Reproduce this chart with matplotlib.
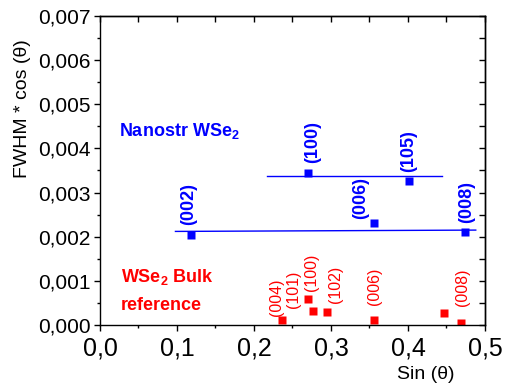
import matplotlib
matplotlib.use('Agg')
import matplotlib.pyplot as plt
from matplotlib.ticker import MultipleLocator, FuncFormatter

plt.rcParams.update({
    'font.family': 'Liberation Sans',
    'mathtext.fontset': 'custom',
    'mathtext.rm': 'Liberation Sans',
    'mathtext.bf': 'Liberation Sans:bold',
})

# Nanostructured WSe2 peaks
nano_sin = [0.118, 0.2705, 0.356, 0.401, 0.474]
nano_fwhm = [0.00204, 0.00345, 0.00231, 0.00326, 0.00210]
nano_hkl = ['(002)', '(100)', '(006)', '(105)', '(008)']

# Bulk reference peaks (one point has no label)
bulk_sin = [0.2368, 0.277, 0.2705, 0.295, 0.356, 0.4468, 0.4684]
bulk_fwhm = [0.000107, 0.000325, 0.00058, 0.00030, 0.000113, 0.000265, 0.00005]
bulk_hkl = ['(004)', '(101)', '(100)', '(102)', '(006)', '', '(008)']

# Linear fits drawn on the nanostructured data
fit1_x = [0.098, 0.488]
fit1_y = [0.00212, 0.00215]
fit2_x = [0.217, 0.4446]
fit2_y = [0.00338, 0.00338]

# label offsets in points (dx, dy)
nano_off = [(-1.5, 7), (3, 7), (-10, 3), (0, 6.5), (1.5, 6.5)]
bulk_off = [(-4.5, 3), (-14.5, 2), (2.5, 6), (6, 6.5), (0.5, 11), (0, 0), (1.5, 12)]

blue = '#0000FF'
red = '#FF0000'

fig = plt.figure(figsize=(5.06, 3.87), dpi=100)
ax = fig.add_axes([0.1976, 0.1602, 0.9585 - 0.1976, 0.9587 - 0.1602])

ax.plot(fit1_x, fit1_y, color=blue, lw=1)
ax.plot(fit2_x, fit2_y, color=blue, lw=1)
ax.plot(nano_sin, nano_fwhm, 's', color=blue, ms=5.5, mec='none')
ax.plot(bulk_sin, bulk_fwhm, 's', color=red, ms=5.5, mec='none')

for x, y, lab, (dx, dy) in zip(nano_sin, nano_fwhm, nano_hkl, nano_off):
    ax.annotate(lab, (x, y), xytext=(dx, dy), textcoords='offset points',
                rotation=90, ha='center', va='bottom', color=blue,
                fontsize=13, fontweight='bold')
for x, y, lab, (dx, dy) in zip(bulk_sin, bulk_fwhm, bulk_hkl, bulk_off):
    if lab:
        ax.annotate(lab, (x, y), xytext=(dx, dy), textcoords='offset points',
                    rotation=90, ha='center', va='bottom', color=red,
                    fontsize=11.5)

ax.text(0.0247, 0.00429, r'Nanostr WSe$_\mathbf{2}$', color=blue,
        fontsize=13, fontweight='bold', ha='left', va='baseline')
ax.text(0.027, 0.00098, r'WSe$_\mathbf{2}$ Bulk', color=red,
        fontsize=13, fontweight='bold', ha='left', va='baseline')
ax.text(0.027, 0.00034, 'reference', color=red,
        fontsize=13, fontweight='bold', ha='left', va='baseline')

ax.set_xlim(0, 0.5)
ax.set_ylim(0, 0.007)
ax.xaxis.set_major_locator(MultipleLocator(0.1))
ax.xaxis.set_minor_locator(MultipleLocator(0.05))
ax.yaxis.set_major_locator(MultipleLocator(0.001))
ax.yaxis.set_minor_locator(MultipleLocator(0.0005))
ax.xaxis.set_major_formatter(FuncFormatter(lambda v, p: f'{v:.1f}'.replace('.', ',')))
ax.yaxis.set_major_formatter(FuncFormatter(lambda v, p: f'{v:.3f}'.replace('.', ',')))
ax.tick_params(axis='x', which='major', labelsize=18, direction='out', length=4, width=1, pad=4)
ax.tick_params(axis='y', which='major', labelsize=15, direction='out', length=4, width=1, pad=3)
ax.tick_params(which='minor', direction='out', length=2.5, width=1)
for s in ax.spines.values():
    s.set_linewidth(1)

# top and right: inward ticks, no labels
top = ax.secondary_xaxis('top')
top.xaxis.set_major_locator(MultipleLocator(0.05))
top.tick_params(direction='in', length=4, width=1, labeltop=False)
top.spines['top'].set_linewidth(1)
right = ax.secondary_yaxis('right')
right.yaxis.set_major_locator(MultipleLocator(0.0005))
right.tick_params(direction='in', length=4, width=1, labelright=False)
right.spines['right'].set_linewidth(1)

fig.text(426 / 506, 1 - 383 / 387, 'Sin (θ)', fontsize=14, ha='center', va='bottom')
fig.text(23 / 506, 1 - 108.5 / 387, 'FWHM * cos (θ)', fontsize=14,
         rotation=90, ha='center', va='center')

fig.savefig('out.png', dpi=100)
